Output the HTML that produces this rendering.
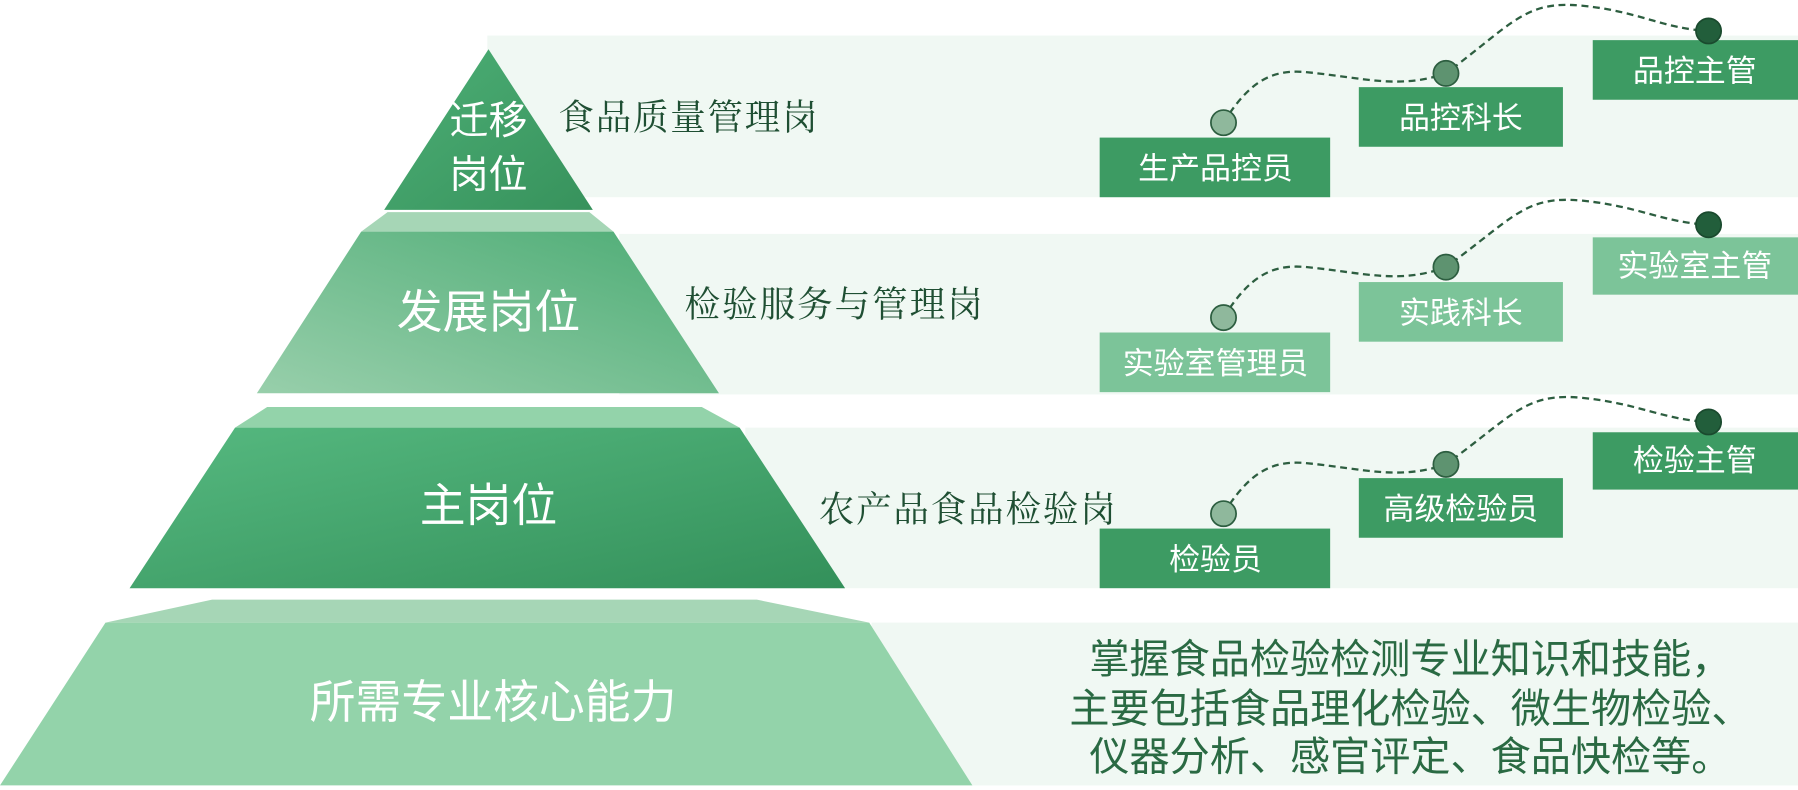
<!DOCTYPE html>
<html><head><meta charset="utf-8"><style>
html,body{margin:0;padding:0;background:#fff;width:1798px;height:790px;overflow:hidden}
svg{display:block}
.w{fill:#fff;font-family:"Liberation Sans","Noto Sans CJK SC",sans-serif}
.s{fill:#1f4f33;font-family:"Noto Serif CJK SC","Liberation Serif",serif;font-size:31px}
.p{fill:#2a6a43;font-family:"Liberation Sans","Noto Sans CJK SC",sans-serif;font-size:35px}
.d{fill:none;stroke:#2d5e40;stroke-width:2;stroke-dasharray:6 4}
</style></head><body>
<svg width="1798" height="790" viewBox="0 0 1568 689" preserveAspectRatio="none">
<defs>
<linearGradient id="g1" x1="0" y1="0" x2="1" y2="1"><stop offset="0" stop-color="#4daf76"/><stop offset="1" stop-color="#37925c"/></linearGradient>
<linearGradient id="g2" x1="0" y1="1" x2="1" y2="0"><stop offset="0" stop-color="#98cfab"/><stop offset="1" stop-color="#4dac75"/></linearGradient>
<linearGradient id="g3" x1="0" y1="0" x2="1" y2="1"><stop offset="0" stop-color="#56b980"/><stop offset="1" stop-color="#33905a"/></linearGradient>
</defs>
<rect x="425" y="31" width="1143" height="141" fill="#f0f8f3"/>
<rect x="540" y="204" width="1028" height="140" fill="#f0f8f3"/>
<rect x="650" y="373" width="918" height="140" fill="#f0f8f3"/>
<rect x="760" y="543" width="808" height="142" fill="#f0f8f3"/>
<polygon points="426,43 517,183 335,183" fill="url(#g1)"/>
<polygon points="338,185 514,185 535,202 315,202" fill="#a6d6b6"/>
<polygon points="315,202 535,202 627,343 224,343" fill="url(#g2)"/>
<polygon points="233,355 612,355 645,373 205,373" fill="#93d3aa"/>
<polygon points="205,373 645,373 737,513 113,513" fill="url(#g3)"/>
<polygon points="185,523 660,523 758,543 92,543" fill="#a6d6b6"/>
<polygon points="92,543 758,543 848,685 0,685" fill="#93d3aa"/>
<text class="w" x="426" y="117" font-size="34" text-anchor="middle">迁移</text>
<text class="w" x="426" y="164" font-size="34" text-anchor="middle">岗位</text>
<text class="w" x="426" y="286" font-size="40" text-anchor="middle">发展岗位</text>
<text class="w" x="426" y="455" font-size="40" text-anchor="middle">主岗位</text>
<text class="w" x="430" y="626" font-size="40" text-anchor="middle">所需专业核心能力</text>
<text class="s" x="487" y="113" textLength="226">食品质量管理岗</text>
<text class="s" x="597" y="276" textLength="260">检验服务与管理岗</text>
<text class="s" x="714" y="455" textLength="259">农产品食品检验岗</text>
<text class="p" x="1230" y="587" text-anchor="middle">掌握食品检验检测专业知识和技能，</text>
<text class="p" x="1230" y="630" text-anchor="middle">主要包括食品理化检验、微生物检验、</text>
<text class="p" x="1230" y="672" text-anchor="middle">仪器分析、感官评定、食品快检等。</text>
<path class="d" d="M1067,107 C1090,70 1110,60 1140,63 C1190,68 1220,78 1261,64 C1320,20 1330,0 1380,5 C1430,10 1450,25 1490,27"/>
<rect x="959" y="120" width="201" height="52" fill="#3d9b63"/>
<rect x="1185" y="76" width="178" height="52" fill="#3d9b63"/>
<rect x="1389" y="35" width="179" height="52" fill="#3d9b63"/>
<circle cx="1067" cy="107" r="11" fill="#8fb89c" stroke="#2d5e40" stroke-width="1.5"/>
<circle cx="1261" cy="64" r="11" fill="#5e9370" stroke="#2d5e40" stroke-width="1.5"/>
<circle cx="1490" cy="27" r="11" fill="#225e3b" stroke="#1a4a2e" stroke-width="1.5"/>
<text class="w" x="1060" y="156" font-size="27" text-anchor="middle">生产品控员</text>
<text class="w" x="1274" y="112" font-size="27" text-anchor="middle">品控科长</text>
<text class="w" x="1478" y="71" font-size="27" text-anchor="middle">品控主管</text>
<path class="d" d="M1067,277 C1090,240 1110,230 1140,233 C1190,238 1220,248 1261,233 C1320,190 1330,170 1380,175 C1430,180 1450,194 1490,196"/>
<rect x="959" y="290" width="201" height="52" fill="#7cc499"/>
<rect x="1185" y="246" width="178" height="52" fill="#7cc499"/>
<rect x="1389" y="207" width="179" height="50" fill="#7cc499"/>
<circle cx="1067" cy="277" r="11" fill="#8fb89c" stroke="#2d5e40" stroke-width="1.5"/>
<circle cx="1261" cy="233" r="11" fill="#5e9370" stroke="#2d5e40" stroke-width="1.5"/>
<circle cx="1490" cy="196" r="11" fill="#225e3b" stroke="#1a4a2e" stroke-width="1.5"/>
<text class="w" x="1060" y="326" font-size="27" text-anchor="middle">实验室管理员</text>
<text class="w" x="1274" y="282" font-size="27" text-anchor="middle">实践科长</text>
<text class="w" x="1478" y="241" font-size="27" text-anchor="middle">实验室主管</text>
<path class="d" d="M1067,448 C1090,411 1110,401 1140,404 C1190,409 1220,419 1261,405 C1320,362 1330,342 1380,347 C1430,352 1450,366 1490,368"/>
<rect x="959" y="461" width="201" height="52" fill="#3d9b63"/>
<rect x="1185" y="417" width="178" height="52" fill="#3d9b63"/>
<rect x="1389" y="377" width="179" height="50" fill="#3d9b63"/>
<circle cx="1067" cy="448" r="11" fill="#8fb89c" stroke="#2d5e40" stroke-width="1.5"/>
<circle cx="1261" cy="405" r="11" fill="#5e9370" stroke="#2d5e40" stroke-width="1.5"/>
<circle cx="1490" cy="368" r="11" fill="#225e3b" stroke="#1a4a2e" stroke-width="1.5"/>
<text class="w" x="1060" y="497" font-size="27" text-anchor="middle">检验员</text>
<text class="w" x="1274" y="453" font-size="27" text-anchor="middle">高级检验员</text>
<text class="w" x="1478" y="411" font-size="27" text-anchor="middle">检验主管</text>
</svg>
</body></html>
